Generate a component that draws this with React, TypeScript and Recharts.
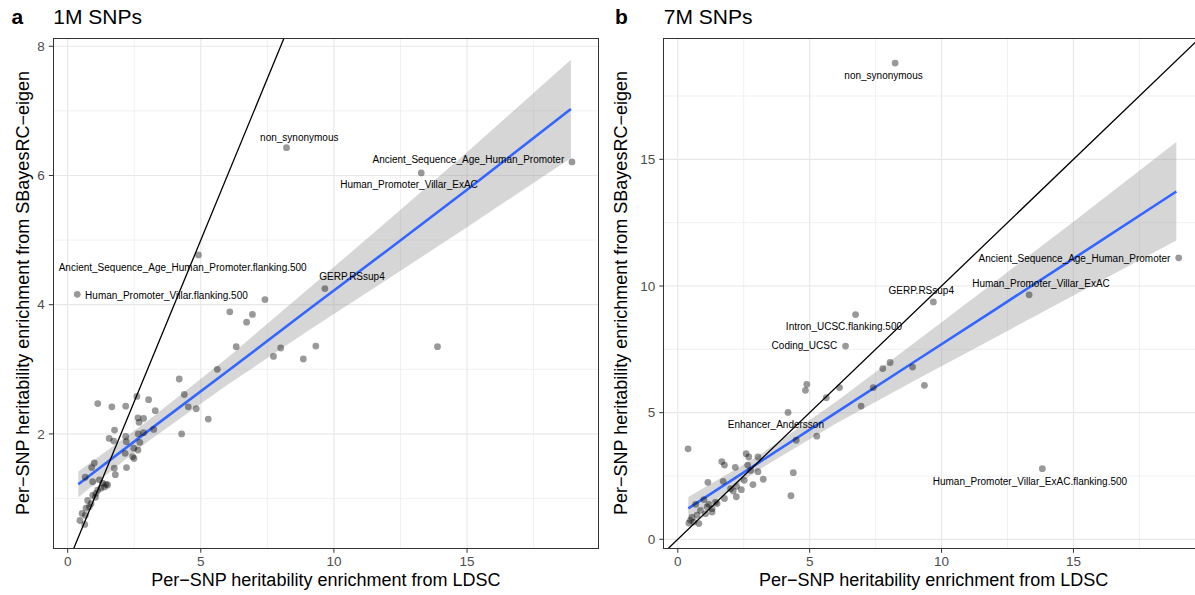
import { ComposedChart, Scatter, Line, Area, XAxis, YAxis, CartesianGrid } from 'recharts';

const FONT = '"Liberation Sans", Arial, Helvetica, sans-serif';

// panel a: 1M SNPs (x = LDSC enrichment, y = SBayesRC-eigen enrichment)
const ldscA = [
  8.22, 18.94, 13.28, 4.91, 0.36, 9.66, 7.41, 6.09, 6.94, 6.72, 6.33, 8.0, 7.73, 8.85, 9.32, 13.89,
  5.62, 4.19, 4.38, 3.04, 2.6, 1.13, 1.66, 2.18, 3.29, 4.53, 4.83, 5.28, 2.64, 2.85, 2.68, 3.23,
  1.76, 2.65, 2.18, 2.85, 4.28, 1.56, 1.73, 2.71, 2.2, 2.48, 2.64, 2.16, 2.44, 2.49, 1.0, 0.9,
  1.75, 2.21, 1.79, 0.66, 0.94, 1.19, 1.31, 1.5, 1.38, 1.25, 1.13, 1.44, 0.94, 1.04, 1.06, 0.88,
  0.75, 0.69, 0.81, 0.54, 0.66, 0.46, 0.64,
];
const sbayesA = [
  6.43, 6.21, 6.04, 4.77, 4.16, 4.25, 4.08, 3.89, 3.85, 3.73, 3.35, 3.33, 3.2, 3.16, 3.36, 3.35,
  3.0, 2.85, 2.61, 2.53, 2.58, 2.47, 2.42, 2.43, 2.36, 2.42, 2.39, 2.23, 2.25, 2.24, 2.18, 2.07,
  2.06, 2.0, 1.96, 2.02, 2.0, 1.93, 1.89, 1.87, 1.88, 1.78, 1.75, 1.7, 1.65, 1.62, 1.55, 1.48,
  1.47, 1.48, 1.37, 1.33, 1.26, 1.29, 1.24, 1.21, 1.18, 1.16, 1.13, 1.22, 1.05, 1.02, 1.08, 0.92,
  0.97, 0.85, 0.87, 0.77, 0.74, 0.66, 0.6,
];

// panel b: 7M SNPs
const ldscB = [
  8.24, 18.99, 13.32, 9.69, 6.74, 6.36, 8.05, 7.77, 8.9, 9.35, 4.89, 4.84, 6.13, 7.41, 5.63, 6.95,
  4.18, 5.27, 4.49, 0.39, 13.82, 2.59, 2.69, 3.04, 1.67, 1.77, 2.18, 4.38, 2.65, 2.76, 3.04, 3.24,
  2.52, 2.85, 1.72, 1.14, 2.23, 2.41, 2.1, 4.29, 2.22, 1.77, 1.43, 0.99, 0.68, 1.11, 1.3, 0.86,
  1.05, 1.3, 0.73, 0.54, 0.61, 0.8, 0.42, 0.48, 1.18, 1.49, 2.0,
];
const sbayesB = [
  18.8, 11.11, 9.65, 9.37, 8.87, 7.63, 6.98, 6.74, 6.8, 6.08, 6.12, 5.88, 5.99, 5.99, 5.59, 5.26,
  5.01, 4.07, 3.91, 3.57, 2.79, 3.38, 3.25, 3.25, 3.07, 2.93, 2.84, 2.63, 2.93, 2.72, 2.67, 2.37,
  2.33, 2.16, 2.29, 2.25, 2.09, 1.96, 1.91, 1.72, 1.68, 1.61, 1.47, 1.57, 1.38, 1.28, 1.21, 1.14,
  1.01, 1.08, 0.95, 0.86, 0.68, 0.62, 0.64, 0.75, 1.38, 1.41, 2.0,
];

// linear fit and 95% band, read at a few x positions
const fitX = [0.4, 3, 6, 9, 12, 15, 18.9];
const fitA = [1.22, 2.04, 2.97, 3.91, 4.84, 5.78, 7.03];
const bandLoA = [1.02, 1.88, 2.76, 3.59, 4.39, 5.2, 6.27];
const bandHiA = [1.42, 2.2, 3.18, 4.23, 5.29, 6.36, 7.79];
const fitB = [1.22, 2.98, 5.0, 7.03, 9.05, 11.08, 13.73];
const bandLoB = [0.77, 2.7, 4.57, 6.28, 7.95, 9.62, 11.8];
const bandHiB = [1.67, 3.26, 5.43, 7.78, 10.15, 12.54, 15.68];

// y = x reference
const identityEnds = [-1, 25];

const labelsA = [
  { name: 'non_synonymous', x: 8.7, y: 6.59 },
  { name: 'Ancient_Sequence_Age_Human_Promoter', x: 15.05, y: 6.25 },
  { name: 'Human_Promoter_Villar_ExAC', x: 12.82, y: 5.86 },
  { name: 'Ancient_Sequence_Age_Human_Promoter.flanking.500', x: 4.32, y: 4.58 },
  { name: 'Human_Promoter_Villar.flanking.500', x: 3.71, y: 4.14 },
  { name: 'GERP.RSsup4', x: 10.68, y: 4.43 },
];
const labelsB = [
  { name: 'non_synonymous', x: 7.8, y: 18.32 },
  { name: 'Ancient_Sequence_Age_Human_Promoter', x: 15.04, y: 11.1 },
  { name: 'Human_Promoter_Villar_ExAC', x: 13.77, y: 10.08 },
  { name: 'GERP.RSsup4', x: 9.23, y: 9.82 },
  { name: 'Intron_UCSC.flanking.500', x: 6.3, y: 8.39 },
  { name: 'Coding_UCSC', x: 4.8, y: 7.64 },
  { name: 'Enhancer_Andersson', x: 3.72, y: 4.55 },
  { name: 'Human_Promoter_Villar_ExAC.flanking.500', x: 13.35, y: 2.3 },
];

const xTicks = [0, 5, 10, 15];
const xMinor = [2.5, 7.5, 12.5, 17.5];

const Dot = (p: any) => <circle cx={p.cx} cy={p.cy} r={3.4} fill="#000" fillOpacity={0.4} />;

const Tag = (p: any) => (
  <text x={p.cx} y={p.cy} textAnchor="middle" dominantBaseline="central" fontSize={10} fill="#000" fontFamily={FONT}>
    {p.payload?.name ?? p.name}
  </text>
);

interface PanelProps {
  left: number;
  width: number;
  yAxisWidth: number;
  rightMargin: number;
  tagX: number;
  yTitleX: number;
  xs: number[];
  ys: number[];
  fit: number[];
  lo: number[];
  hi: number[];
  labels: { name: string; x: number; y: number }[];
  xDomain: [number, number];
  yDomain: [number, number];
  yTicks: number[];
  yMinor: number[];
  tag: string;
  title: string;
}

function Panel(props: PanelProps) {
  const { left, width, yAxisWidth, rightMargin, tagX, yTitleX, xs, ys, fit, lo, hi, labels, xDomain, yDomain, yTicks, yMinor, tag, title } = props;
  const top = 38.5;
  const height = 595;
  const xAxisHeight = 46.7;

  const points = xs.map((x, i) => ({ x, y: ys[i] }));
  const fitLine = fitX.map((x, i) => ({ x, y: fit[i] }));
  const band = fitX.map((x, i) => ({ x, band: [lo[i], hi[i]] }));
  const identity = identityEnds.map((v) => ({ x: v, y: v }));

  const plotW = width - yAxisWidth - rightMargin;
  const plotH = height - top - xAxisHeight;
  const tickStyle = { fill: '#4d4d4d', fontSize: 13.5, fontFamily: FONT };

  return (
    <div style={{ position: 'absolute', left, top: 0, width, height }}>
      <ComposedChart width={width} height={height} margin={{ top, right: rightMargin, bottom: 0, left: 0 }}>
        <CartesianGrid stroke="#ebebeb" strokeWidth={0.7} verticalValues={xMinor} horizontalValues={yMinor} />
        <CartesianGrid stroke="#e8e8e8" strokeWidth={1.2} verticalValues={xTicks} horizontalValues={yTicks} />
        <XAxis
          type="number"
          dataKey="x"
          domain={xDomain}
          allowDataOverflow
          ticks={xTicks}
          height={xAxisHeight}
          axisLine={false}
          tickLine={{ stroke: '#333' }}
          tickSize={4.5}
          tickMargin={4}
          tick={tickStyle}
        />
        <YAxis
          type="number"
          dataKey="y"
          domain={yDomain}
          allowDataOverflow
          ticks={yTicks}
          width={yAxisWidth}
          axisLine={false}
          tickLine={{ stroke: '#333' }}
          tickSize={4.5}
          tickMargin={4}
          tick={tickStyle}
        />
        <Scatter data={points} shape={Dot} isAnimationActive={false} />
        <Area
          data={band}
          dataKey="band"
          type="linear"
          stroke="none"
          fill="#999999"
          fillOpacity={0.4}
          isAnimationActive={false}
        />
        <Line data={fitLine} dataKey="y" type="linear" stroke="#3366FF" strokeWidth={2.6} dot={false} isAnimationActive={false} />
        <Line data={identity} dataKey="y" type="linear" stroke="#000" strokeWidth={1.3} dot={false} isAnimationActive={false} />
        <Scatter data={labels} shape={Tag} isAnimationActive={false} />
      </ComposedChart>
      <div
        style={{
          position: 'absolute',
          left: yAxisWidth - 0.5,
          top: top - 0.5,
          width: plotW + 1,
          height: plotH + 1,
          border: '1.1px solid #333',
          boxSizing: 'border-box',
          pointerEvents: 'none',
        }}
      />
      <div
        style={{
          position: 'absolute',
          left: tagX,
          top: 5,
          fontFamily: FONT,
          fontWeight: 'bold',
          fontSize: 21,
          color: '#000',
          lineHeight: '24px',
        }}
      >
        {tag}
      </div>
      <div
        style={{
          position: 'absolute',
          left: yAxisWidth,
          top: 5,
          fontFamily: FONT,
          fontSize: 21,
          color: '#000',
          lineHeight: '24px',
          whiteSpace: 'nowrap',
        }}
      >
        {title}
      </div>
      <div
        style={{
          position: 'absolute',
          left: yAxisWidth + plotW / 2,
          top: 580,
          transform: 'translate(-50%, -50%)',
          fontFamily: FONT,
          fontSize: 18,
          color: '#000',
          whiteSpace: 'nowrap',
        }}
      >
        Per−SNP heritability enrichment from LDSC
      </div>
      <div
        style={{
          position: 'absolute',
          left: yTitleX,
          top: top + plotH / 2,
          transform: 'translate(-50%, -50%) rotate(-90deg)',
          fontFamily: FONT,
          fontSize: 18,
          color: '#000',
          whiteSpace: 'nowrap',
        }}
      >
        Per−SNP heritability enrichment from SBayesRC−eigen
      </div>
    </div>
  );
}

export default function App() {
  return (
    <div style={{ position: 'absolute', left: 0, top: 0, width: 1195, height: 595, overflow: 'hidden', background: '#fff' }}>
      <Panel
        left={0}
        width={600}
        yAxisWidth={53.3}
        rightMargin={1.7}
        tagX={11.5}
        yTitleX={23.3}
        xs={ldscA}
        ys={sbayesA}
        fit={fitA}
        lo={bandLoA}
        hi={bandHiA}
        labels={labelsA}
        xDomain={[-0.54, 19.93]}
        yDomain={[0.23, 8.12]}
        yTicks={[2, 4, 6, 8]}
        yMinor={[1, 3, 5, 7]}
        tag="a"
        title="1M SNPs"
      />
      <Panel
        left={600}
        width={610}
        yAxisWidth={63.8}
        rightMargin={6.5}
        tagX={15}
        yTitleX={21}
        xs={ldscB}
        ys={sbayesB}
        fit={fitB}
        lo={bandLoB}
        hi={bandHiB}
        labels={labelsB}
        xDomain={[-0.53, 19.93]}
        yDomain={[-0.355, 19.77]}
        yTicks={[0, 5, 10, 15]}
        yMinor={[2.5, 7.5, 12.5, 17.5]}
        tag="b"
        title="7M SNPs"
      />
    </div>
  );
}
